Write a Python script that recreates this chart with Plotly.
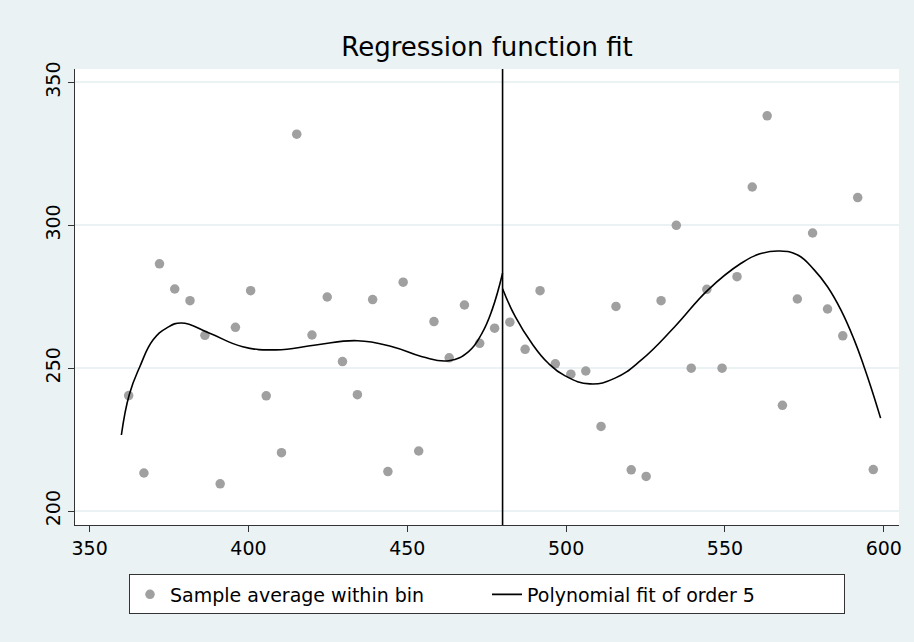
import plotly.graph_objects as go

# Binned sample averages (left of cutoff)
left_x = [362.3, 367.1, 372.0, 376.8, 381.6, 386.3, 391.1, 395.9, 400.7, 405.6,
          410.4, 415.2, 420.0, 424.8, 429.6, 434.3, 439.1, 443.9, 448.7, 453.6,
          458.4, 463.2, 468.0, 472.8, 477.5]
left_y = [240.4, 213.3, 286.5, 277.7, 273.6, 261.5, 209.5, 264.3, 277.1, 240.3,
          220.4, 331.9, 261.6, 274.9, 252.3, 240.7, 274.0, 213.8, 280.1, 221.0,
          266.3, 253.6, 272.1, 258.7, 264.0]

# Binned sample averages (right of cutoff)
right_x = [482.3, 487.1, 491.8, 496.6, 501.5, 506.2, 511.0, 515.7, 520.5, 525.2,
           529.9, 534.7, 539.4, 544.3, 549.1, 553.8, 558.6, 563.3, 568.1, 572.8,
           577.6, 582.3, 587.1, 591.8, 596.7]
right_y = [266.1, 256.6, 277.1, 251.5, 247.9, 249.0, 229.6, 271.6, 214.4, 212.1,
           273.6, 300.0, 250.0, 277.6, 250.0, 282.0, 313.4, 338.3, 237.0, 274.2,
           297.3, 270.7, 261.3, 309.7, 214.5]

# Polynomial fit (order 5)
fitL_x = [360.0, 362.5, 365.8, 370.0, 374.2, 378.9, 387.8, 398.2, 408.7, 421.2,
          434.3, 445.3, 454.7, 463.1, 469.3, 473.5, 476.7, 480.0]
fitL_y = [226.6, 240.8, 250.5, 259.9, 264.0, 265.8, 262.2, 257.5, 256.4, 258.1,
          259.6, 257.5, 254.0, 252.6, 255.8, 262.2, 270.4, 283.2]
fitR_x = [480.0, 484.0, 489.2, 494.4, 499.7, 507.5, 515.4, 523.7, 534.2, 544.7,
          555.1, 561.0, 567.2, 572.9, 578.1, 582.3, 586.5, 590.7, 593.8, 596.4, 599.0]
fitR_y = [277.8, 268.0, 258.7, 251.7, 247.3, 244.5, 246.5, 252.9, 264.5, 277.4,
          286.7, 290.0, 291.0, 289.6, 284.4, 278.5, 270.4, 259.9, 250.5, 241.8, 232.5]

cutoff = 480
x_ticks = [350, 400, 450, 500, 550, 600]
y_ticks = [200, 250, 300, 350]

BG = "#EAF2F3"
FONT = "DejaVu Sans, Liberation Sans, Arial, sans-serif"

fig = go.Figure()
fig.add_trace(go.Scatter(
    x=left_x + right_x, y=left_y + right_y, mode="markers",
    marker=dict(color="#A0A0A0", size=9.5, line=dict(width=0)),
    name="Sample average within bin"))
fig.add_trace(go.Scatter(
    x=fitL_x, y=fitL_y, mode="lines",
    line=dict(color="black", width=1.6, shape="spline", smoothing=1.3),
    name="Polynomial fit of order 5"))
fig.add_trace(go.Scatter(
    x=fitR_x, y=fitR_y, mode="lines",
    line=dict(color="black", width=1.6, shape="spline", smoothing=1.3),
    name="Polynomial fit of order 5", showlegend=False))

fig.add_shape(type="line", x0=cutoff, x1=cutoff, y0=0, y1=1, xref="x", yref="paper",
              line=dict(color="black", width=1.6))

fig.update_layout(
    width=914, height=642,
    paper_bgcolor=BG, plot_bgcolor="white",
    margin=dict(l=75, r=12, t=69, b=117),
    font=dict(family=FONT, size=19, color="black"),
    title=dict(text="Regression function fit", x=0.5, xref="paper", xanchor="center",
               y=0.927, yanchor="middle", font=dict(size=26, family=FONT)),
    showlegend=True,
    legend=dict(orientation="h", x=0.5, xanchor="center", y=-0.1524, yanchor="middle",
                bgcolor="white", bordercolor="#333333", borderwidth=1,
                entrywidth=312, entrywidthmode="pixels",
                font=dict(size=19, family=FONT)),
    xaxis=dict(range=[345.4, 604.8], tickvals=x_ticks, showgrid=False, zeroline=False,
               showline=True, linecolor="#333333", linewidth=1.2,
               ticks="outside", ticklen=6, tickcolor="#333333",
               tickfont=dict(size=19, family=FONT)),
    yaxis=dict(range=[195.1, 354.7], tickvals=y_ticks, showgrid=True, gridcolor=BG,
               gridwidth=1.5, zeroline=False,
               showline=True, linecolor="#333333", linewidth=1.2,
               ticks="outside", ticklen=6, tickcolor="#333333", tickangle=-90,
               tickfont=dict(size=19, family=FONT)),
)

fig.write_html("out.html", config={"displayModeBar": False},
               post_script="document.body.style.margin='0';")
